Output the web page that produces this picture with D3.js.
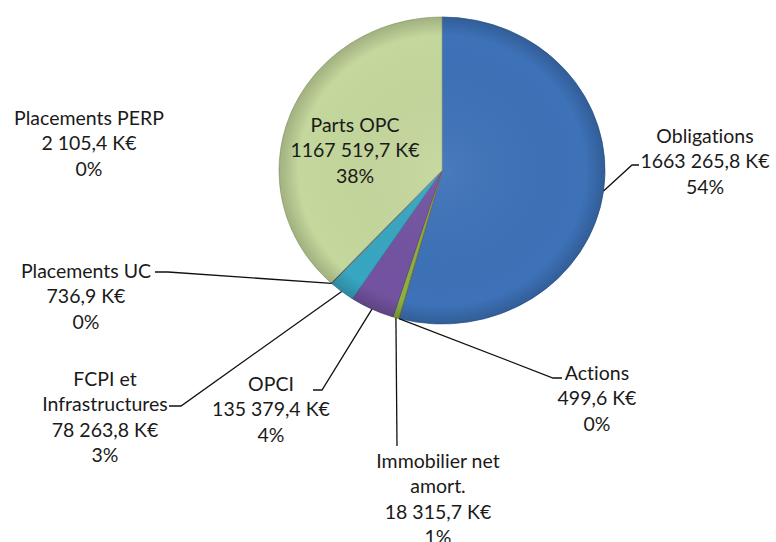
<!DOCTYPE html>
<html>
<head>
<meta charset="utf-8">
<script src="https://cdn.jsdelivr.net/npm/d3@7"></script>
<style>
  body { margin: 0; background: #fff; }
  svg { display: block; }
  text { font-family: Lato, "Open Sans", sans-serif; font-size: 19.5px; fill: #1a1a1a; font-variant-ligatures: none; }
</style>
</head>
<body>
<svg width="776" height="542"></svg>
<script>
// slices, clockwise from 12 o'clock
const categories = ['Obligations', 'Actions', 'Immobilier net amort.', 'OPCI', 'FCPI et Infrastructures', 'Placements UC', 'Placements PERP', 'Parts OPC'];
const values = [1663265.8, 499.6, 18315.7, 135379.4, 78263.8, 736.9, 2105.4, 1167519.7];
const valueLabels = ['1663 265,8 K€', '499,6 K€', '18 315,7 K€', '135 379,4 K€', '78 263,8 K€', '736,9 K€', '2 105,4 K€', '1167 519,7 K€'];
const nameLines = [['Obligations'], ['Actions'], ['Immobilier net', 'amort.'], ['OPCI'], ['FCPI et', 'Infrastructures'], ['Placements UC'], ['Placements PERP'], ['Parts OPC']];
const colors = ['#3d72b8', '#b94a48', '#8cb040', '#7353a1', '#38a6c1', '#f0923e', '#2f5f9f', '#c4d79c'];

// label placement: text centre x, first line y, leader elbow and stub end
const labelPos = [
  { x: 705, y: 135, elbow: [632, 165], stub: [639, 165] },
  { x: 597, y: 372, elbow: [553, 378], stub: [562, 378] },
  { x: 438, y: 460, elbow: null, stub: [397, 446] },
  { x: 271, y: 383, elbow: [322, 390], stub: [313, 390] },
  { x: 105, y: 378, elbow: [181, 406], stub: [169, 406] },
  { x: 86, y: 270, elbow: [168, 272], stub: [155, 272] },
  { x: 89, y: 117, noLeader: true },
  { x: 355, y: 124, inside: true }
];

const cx = 442, cy = 170.5, rx = 163, ry = 153.5;
const lineH = 25.5;

const svg = d3.select('svg');
const total = d3.sum(values);
const pct = v => Math.round(v / total * 100) + '%';

const data = categories.map((c, i) => ({ name: c, value: values[i], i }));
const pie = d3.pie().sort(null).value(d => d.value);
const arcs = pie(data);
const arc = d3.arc().innerRadius(0).outerRadius(rx);

const defs = svg.append('defs');
const shade = defs.append('radialGradient').attr('id', 'shade')
  .attr('cx', '50%').attr('cy', '50%').attr('r', '50%');
shade.append('stop').attr('offset', '0%').attr('stop-color', '#fff').attr('stop-opacity', 0.06);
shade.append('stop').attr('offset', '88%').attr('stop-color', '#000').attr('stop-opacity', 0.0);
shade.append('stop').attr('offset', '100%').attr('stop-color', '#000').attr('stop-opacity', 0.18);

const g = svg.append('g').attr('transform', `translate(${cx},${cy}) scale(1,${ry / rx})`);

g.selectAll('path.slice')
  .data(arcs)
  .enter()
  .append('path')
  .attr('class', 'slice')
  .attr('d', arc)
  .attr('fill', d => colors[d.data.i])
  .attr('stroke', d => d3.color(colors[d.data.i]).darker(0.6))
  .attr('stroke-width', 0.8);

g.append('circle').attr('r', rx).attr('fill', 'url(#shade)');

// point on the pie edge at a slice's mid angle
function edgePoint(d) {
  const a = (d.startAngle + d.endAngle) / 2;
  return [cx + rx * Math.sin(a), cy - ry * Math.cos(a)];
}

// leader lines
arcs.forEach((d, i) => {
  const p = labelPos[i];
  if (p.inside || p.noLeader) return;
  const pts = [edgePoint(d)];
  if (p.elbow) pts.push(p.elbow);
  pts.push(p.stub);
  svg.append('path')
    .attr('d', d3.line()(pts))
    .attr('fill', 'none')
    .attr('stroke', '#111')
    .attr('stroke-width', 1.3);
});

// labels
arcs.forEach((d, i) => {
  const p = labelPos[i];
  const lines = nameLines[i].concat([valueLabels[i], pct(values[i])]);
  const t = svg.append('text')
    .attr('text-anchor', 'middle');
  lines.forEach((s, k) => {
    t.append('tspan')
      .attr('x', p.x)
      .attr('y', p.y + k * lineH)
      .attr('dominant-baseline', 'central')
      .text(s);
  });
});
</script>
</body>
</html>
